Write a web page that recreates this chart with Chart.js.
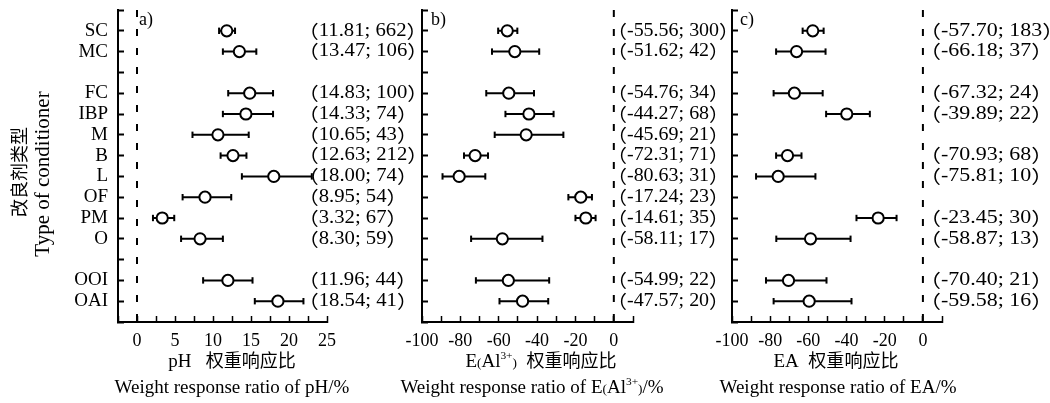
<!DOCTYPE html>
<html><head><meta charset="utf-8">
<script src="https://cdn.jsdelivr.net/npm/chart.js@4.4.1/dist/chart.umd.min.js"></script>
<style>
html,body{margin:0;padding:0;background:#fff;}
#wrap{position:relative;width:1050px;height:403px;overflow:hidden;background:#fff;}
canvas{position:absolute;left:0;top:0;}
</style></head><body>
<div id="wrap">
<canvas id="cA" width="1050" height="403"></canvas>
<canvas id="cB" width="1050" height="403"></canvas>
<canvas id="cC" width="1050" height="403"></canvas>
</div>
<script>
// ---- data ----
const categories = ['SC','MC','','FC','IBP','M','B','L','OF','PM','O','','OOI','OAI'];

const phMean  = [11.81, 13.47, null, 14.83, 14.33, 10.65, 12.63, 18.00, 8.95, 3.32, 8.30, null, 11.96, 18.54];
const phLow   = [10.8, 11.3, null, 12.0, 11.3, 7.3, 11.0, 13.8, 6.0, 2.1, 5.8, null, 8.7, 15.5];
const phHigh  = [12.9, 15.7, null, 17.9, 17.9, 14.7, 14.4, 23.0, 12.4, 4.9, 11.3, null, 15.2, 21.9];
const phN     = [662, 106, null, 100, 74, 43, 212, 74, 54, 67, 59, null, 44, 41];

const alMean  = [-55.56, -51.62, null, -54.76, -44.27, -45.69, -72.31, -80.63, -17.24, -14.61, -58.11, null, -54.99, -47.57];
const alLow   = [-60.3, -63.5, null, -66.5, -56.5, -62.1, -78.1, -89.3, -23.7, -20.0, -74.4, null, -71.9, -59.6];
const alHigh  = [-50.3, -38.9, null, -41.6, -31.4, -26.3, -65.6, -67.0, -11.4, -9.5, -37.2, null, -33.7, -34.2];
const alN     = [300, 42, null, 34, 68, 21, 71, 31, 23, 35, 17, null, 22, 20];

const eaMean  = [-57.70, -66.18, null, -67.32, -39.89, null, -70.93, -75.81, null, -23.45, -58.87, null, -70.40, -59.58];
const eaLow   = [-63.0, -76.9, null, -78.2, -50.7, null, -76.9, -87.4, null, -34.8, -76.8, null, -82.2, -78.2];
const eaHigh  = [-52.0, -51.0, null, -52.5, -27.8, null, -63.6, -56.3, null, -13.8, -37.9, null, -50.5, -37.4];
const eaN     = [183, 37, null, 24, 22, null, 68, 10, null, 30, 13, null, 21, 16];

const phTicks = [0, 5, 10, 15, 20, 25];
const negTicks = [-100, -80, -60, -40, -20, 0];

// ---- styling ----
const SERIF = "'Liberation Serif','Noto Sans CJK SC',serif";
const CJK = "'Noto Sans CJK SC',sans-serif";

function drawRich(ctx, segs, cx, cy, base) {
  let w = 0;
  segs.forEach(s => {
    const size = base * (s.scale || 1);
    ctx.font = `${size}px ${s.cjk ? CJK : SERIF}`;
    s._w = ctx.measureText(s.t).width; s._size = size; w += s._w;
  });
  let x = cx - w / 2;
  ctx.textAlign = 'left'; ctx.textBaseline = 'alphabetic';
  segs.forEach(s => {
    ctx.font = `${s._size}px ${s.cjk ? CJK : SERIF}`;
    ctx.fillText(s.t, x, cy + (s.dy || 0) * base);
    x += s._w;
  });
}

function makeOverlay(p) {
  return {
    id: 'overlay' + p.id,
    afterDraw(chart) {
      const ctx = chart.ctx, ys = chart.scales.y;
      ctx.save();
      ctx.fillStyle = '#000';
      // annotations: (mean; n)
      ctx.textAlign = 'left'; ctx.textBaseline = 'middle';
      p.mean.forEach((m, i) => {
        if (m === null) return;
        const y = ys.getPixelForValue(i);
        ctx.save();
        ctx.translate(p.annX, y);
        ctx.scale(p.annScale, 1);
        let x = 0;
        ctx.font = `18px ${CJK}`;
        ctx.fillText('（', x, 0); x += ctx.measureText('（').width;
        ctx.font = `18px ${SERIF}`;
        const body = m.toFixed(2) + '; ' + p.n[i];
        ctx.fillText(body, x, 0); x += ctx.measureText(body).width;
        ctx.font = `18px ${CJK}`;
        ctx.fillText('）', x, 0);
        ctx.restore();
      });
      // panel letter
      ctx.font = `18px ${SERIF}`;
      ctx.textBaseline = 'alphabetic';
      ctx.fillText(p.letter, p.letterX, 25);
      // x titles
      drawRich(ctx, p.title1, p.t1x, 367, 19);
      drawRich(ctx, p.title2, p.t2x, 393, 19);
      // y title
      if (p.yTitle) {
        ctx.save(); ctx.translate(19, 172); ctx.rotate(-Math.PI / 2);
        ctx.textAlign = 'center'; ctx.textBaseline = 'middle';
        ctx.font = `18px ${CJK}`; ctx.fillText('改良剂类型', 0, 0);
        ctx.restore();
        ctx.save(); ctx.translate(43, 174); ctx.rotate(-Math.PI / 2);
        ctx.textAlign = 'center'; ctx.textBaseline = 'middle';
        ctx.font = `21px ${SERIF}`; ctx.fillText('Type of conditioner', 0, 0);
        ctx.restore();
      }
      ctx.restore();
    }
  };
}

function makeChart(p) {
  const meanPts = [], capPts = [], barPts = [];
  p.mean.forEach((m, i) => {
    if (m === null) return;
    meanPts.push({x: m, y: i});
    capPts.push({x: p.low[i], y: i}, {x: p.high[i], y: i});
    barPts.push({x: p.low[i], y: i}, {x: p.high[i], y: i}, {x: null, y: null});
  });
  return new Chart(document.getElementById(p.canvas), {
    type: 'scatter',
    data: {
      datasets: [
        {data: meanPts, pointStyle: 'circle', pointRadius: 5.6, pointBorderWidth: 2,
         pointBackgroundColor: '#fff', pointBorderColor: '#000', showLine: false},
        {data: capPts, pointStyle: 'line', rotation: 90, pointRadius: 3.2, pointBorderWidth: 2,
         pointBorderColor: '#000', showLine: false},
        {data: barPts, showLine: true, borderColor: '#000', borderWidth: 2, pointRadius: 0, spanGaps: false},
        {data: [{x: 0, y: -1}, {x: 0, y: 14}], showLine: true, borderColor: '#000', borderWidth: 2,
         borderDash: [7, 12], pointRadius: 0}
      ]
    },
    options: {
      responsive: false, animation: false, events: [],
      layout: {padding: {left: p.padLeft, right: 1050 - p.right, top: 10, bottom: 0}},
      plugins: {legend: {display: false}, tooltip: {enabled: false}},
      scales: {
        x: {
          type: 'linear', min: p.xMin, max: p.xMax,
          afterFit: s => { s.height = 81; s.paddingLeft = 0; s.paddingRight = 0; },
          ticks: {stepSize: p.xStep, autoSkip: false, maxRotation: 0, minRotation: 0, color: '#000',
                  font: {family: SERIF, size: 18}, padding: 14,
                  callback: v => p.tickLabels.includes(v) ? String(v) : ''},
          grid: {drawOnChartArea: false, drawTicks: true, tickLength: -6, tickWidth: 1.5, tickColor: '#000'},
          border: {display: true, color: '#000', width: 2}
        },
        y: {
          type: 'linear', min: -1, max: 14, reverse: true,
          afterFit: s => { s.width = p.yWidth; s.paddingTop = 0; s.paddingBottom = 0; },
          ticks: {stepSize: 1, autoSkip: false, color: '#000',
                  font: {family: SERIF, size: 19, lineHeight: 1}, padding: 16,
                  callback: v => p.showCats ? (categories[v] || '') : ''},
          grid: {drawOnChartArea: false, drawTicks: true, tickLength: -6, tickWidth: 2, tickColor: '#000'},
          border: {display: true, color: '#000', width: 2}
        }
      }
    },
    plugins: [makeOverlay(p)]
  });
}

makeChart({
  id: 'A', canvas: 'cA', mean: phMean, low: phLow, high: phHigh, n: phN,
  xMin: -2.5, xMax: 25, xStep: 2.5, tickLabels: phTicks,
  padLeft: 0, yWidth: 118, right: 327, showCats: true,
  annX: 298, annScale: 1.15, letter: 'a)', letterX: 139,
  title1: [{t: 'pH   '}, {t: '权重响应比', cjk: true, scale: 0.95}], t1x: 232,
  title2: [{t: 'Weight response ratio of pH/%'}], t2x: 232,
  yTitle: true
});
makeChart({
  id: 'B', canvas: 'cB', mean: alMean, low: alLow, high: alHigh, n: alN,
  xMin: -100, xMax: 10, xStep: 10, tickLabels: negTicks,
  padLeft: 412, yWidth: 10, right: 633, showCats: false,
  annX: 607, annScale: 1.11, letter: 'b)', letterX: 431,
  title1: [{t: 'E'}, {t: '(', scale: 0.7}, {t: 'Al'}, {t: '3+', scale: 0.6, dy: -0.4}, {t: ')', scale: 0.7},
           {t: '  '}, {t: '权重响应比', cjk: true, scale: 0.95}], t1x: 541,
  title2: [{t: 'Weight response ratio of E'}, {t: '(', scale: 0.7}, {t: 'Al'}, {t: '3+', scale: 0.6, dy: -0.4},
           {t: ')', scale: 0.7}, {t: '/%'}], t2x: 532,
  yTitle: false
});
makeChart({
  id: 'C', canvas: 'cC', mean: eaMean, low: eaLow, high: eaHigh, n: eaN,
  xMin: -100, xMax: 10, xStep: 10, tickLabels: negTicks,
  padLeft: 722, yWidth: 10, right: 942, showCats: false,
  annX: 919, annScale: 1.22, letter: 'c)', letterX: 740,
  title1: [{t: 'EA  '}, {t: '权重响应比', cjk: true, scale: 0.95}], t1x: 836,
  title2: [{t: 'Weight response ratio of EA/%'}], t2x: 838,
  yTitle: false
});
</script>
</body></html>
